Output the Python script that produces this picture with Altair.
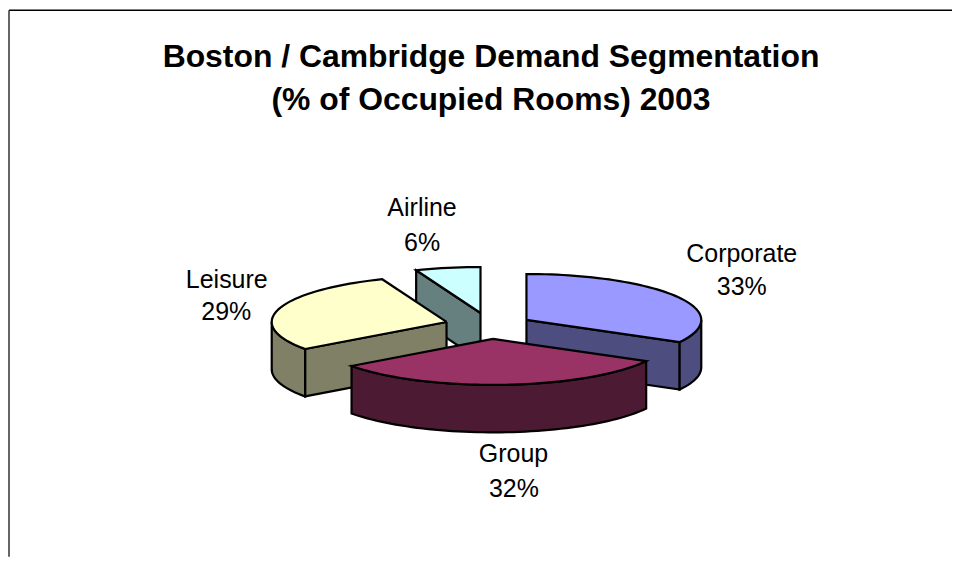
import math
import altair as alt
import pandas as pd

# Chart values
categories = ["Corporate", "Group", "Leisure", "Airline"]
shares = [33, 32, 29, 6]
share_labels = ["33%", "32%", "29%", "6%"]
title_lines = ["Boston / Cambridge Demand Segmentation", "(% of Occupied Rooms) 2003"]

# Styles and layout (chart pixels; the page adds 8px)
top_colors = {"Corporate": "#9999FF", "Group": "#993366", "Leisure": "#FFFFCC", "Airline": "#CCFFFF"}
wall_colors = {"Corporate": "#4D4D80", "Group": "#4D1A33", "Leisure": "#808066", "Airline": "#668080"}
apex = {"Corporate": (519, 312), "Group": (485.5, 331), "Leisure": (439, 314), "Airline": (473, 305)}
label_pos = {"Corporate": (734.5, 246), "Group": (506, 446), "Leisure": (219, 272), "Airline": (414.5, 200)}
pct_pos = {"Corporate": (734.5, 279), "Group": (506.5, 481), "Leisure": (218.5, 304), "Airline": (414.5, 235)}
title_pos = [(483.5, 49), (483.5, 92)]
RX, RY, DEPTH = 175, 46, 47.5
W, H = 945, 549
draw_order = ["Airline", "Leisure", "Corporate", "Group"]

spans = {}
acc = 0
for name, s in zip(categories, shares):
    spans[name] = (acc * 3.6, (acc + s) * 3.6)
    acc += s

xs = alt.Scale(domain=[0, W], range=[0, W], nice=False, zero=False)
ys = alt.Scale(domain=[0, H], range=[0, H], nice=False, zero=False)


def rim_point(name, deg, drop=0.0):
    cx, cy = apex[name]
    r = math.radians(deg)
    return (cx + RX * math.sin(r), cy - RY * math.cos(r) + drop)


def arc(name, a, b, drop=0.0):
    n = max(2, int(abs(b - a) / 2))
    return [rim_point(name, a + (b - a) * i / n, drop) for i in range(n + 1)]


def shape(points, fill):
    pts = points + [points[0]]
    df = pd.DataFrame({"x": [p[0] for p in pts], "y": [p[1] for p in pts], "i": range(len(pts))})
    return alt.Chart(df).mark_line(
        fill=fill, stroke="black", strokeWidth=2.2, strokeJoin="miter", clip=False
    ).encode(
        x=alt.X("x:Q", scale=xs, axis=None),
        y=alt.Y("y:Q", scale=ys, axis=None),
        order=alt.Order("i:Q"),
    )


def cut_wall(name, deg, fill):
    c = apex[name]
    p = rim_point(name, deg)
    return shape([c, p, (p[0], p[1] + DEPTH), (c[0], c[1] + DEPTH)], fill)


layers = []
for name in draw_order:
    a, b = spans[name]
    wall = wall_colors[name]
    if name == "Airline":
        layers.append(cut_wall(name, a, wall))
    if name == "Leisure":
        layers.append(cut_wall(name, a, wall))
        rim = arc(name, a, 270)
        layers.append(shape(rim + [(p[0], p[1] + DEPTH) for p in reversed(rim)], wall))
    if name == "Corporate":
        layers.append(cut_wall(name, b, wall))
        rim = arc(name, 90, b)
        layers.append(shape(rim + [(p[0], p[1] + DEPTH) for p in reversed(rim)], wall))
    if name == "Group":
        rim = arc(name, a, b)
        layers.append(shape(rim + [(p[0], p[1] + DEPTH) for p in reversed(rim)], wall))
    layers.append(shape([apex[name]] + arc(name, a, b), top_colors[name]))


def text(s, pos, size, weight="normal"):
    return alt.Chart(pd.DataFrame({"t": [s]})).mark_text(
        font="Liberation Sans", fontSize=size, fontWeight=weight, color="black",
        align="center", baseline="middle",
    ).encode(x=alt.value(pos[0]), y=alt.value(pos[1]), text="t:N")


for name, lab in zip(categories, share_labels):
    layers.append(text(name, label_pos[name], 25))
    layers.append(text(lab, pct_pos[name], 25))
for line, pos in zip(title_lines, title_pos):
    layers.append(text(line, pos, 31.9, "bold"))

frame_df = pd.DataFrame({"a": [0]})
layers.append(alt.Chart(frame_df).mark_rule(color="black", strokeWidth=1.5).encode(
    x=alt.value(1), x2=alt.value(W), y=alt.value(2)))
layers.append(alt.Chart(frame_df).mark_rule(color="#333333", strokeWidth=1.5).encode(
    x=alt.value(1), y=alt.value(2), y2=alt.value(H)))

chart = alt.layer(*layers).properties(width=W, height=H, padding=0).configure_view(stroke=None)
chart.save("out.html", embed_options={"renderer": "svg", "actions": False})
